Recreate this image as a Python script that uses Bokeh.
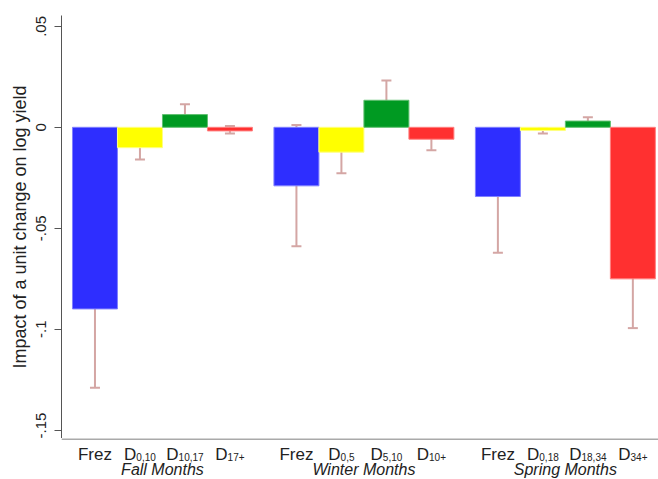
from bokeh.plotting import figure
from bokeh.layouts import column
from bokeh.models import (ColumnDataSource, Range1d, FixedTicker, Whisker, TeeHead, Span)
from bokeh.core.properties import value
from bokeh.embed import file_html
from bokeh.resources import INLINE

# ---------------- data ----------------
groups = ["Fall Months", "Winter Months", "Spring Months"]
main_labels = ["Frez", "D", "D", "D"]
fall_subs = ["", "0,10", "10,17", "17+"]
winter_subs = ["", "0,5", "5,10", "10+"]
spring_subs = ["", "0,18", "18,34", "34+"]

fall = [-0.0900, -0.0101, 0.0063, -0.0018]
fall_lo = [-0.1290, -0.0160, 0.0011, -0.0031]
fall_hi = [-0.0500, -0.0048, 0.0114, 0.0007]

winter = [-0.0290, -0.0123, 0.0134, -0.0059]
winter_lo = [-0.0590, -0.0228, 0.0040, -0.0114]
winter_hi = [0.0011, -0.0023, 0.0232, -0.0008]

spring = [-0.0343, -0.0016, 0.0031, -0.0751]
spring_lo = [-0.0622, -0.0031, 0.0011, -0.0995]
spring_hi = [-0.0061, -0.0003, 0.0050, -0.0510]

bar_colors = ["#2E2EFF", "#FFFF00", "#009A22", "#FF3030"]
edge_colors = ["#8080FF", "#FFFF80", "#60C070", "#FF8080"]

y_ticks = [0.05, 0.0, -0.05, -0.1, -0.15]
y_tick_labels = [".05", "0", "-.05", "-.1", "-.15"]

# ---------------- layout ----------------
FONT = "Liberation Sans"
TXT = "#222222"
AX = "#555555"
first_center = 0.744
group_step = 4.478
W = 658
MAIN_H = 438
STRIP_H = 41

values = [fall, winter, spring]
los = [fall_lo, winter_lo, spring_lo]
his = [fall_hi, winter_hi, spring_hi]
subs = [fall_subs, winter_subs, spring_subs]

xs, tops, lo_all, hi_all, fills, edges = [], [], [], [], [], []
for g in range(3):
    for i in range(4):
        xs.append(first_center + g * group_step + i)
        tops.append(values[g][i])
        lo_all.append(los[g][i])
        hi_all.append(his[g][i])
        fills.append(bar_colors[i])
        edges.append(edge_colors[i])

src = ColumnDataSource(dict(x=xs, top=tops, lo=lo_all, hi=hi_all, fill=fills, edge=edges))

xr = Range1d(0, 13.27)
p = figure(width=W, height=MAIN_H, output_backend="svg", toolbar_location=None,
           x_range=xr, y_range=Range1d(-0.1542, 0.0554),
           min_border_left=61, min_border_right=0, min_border_top=15, min_border_bottom=0)
p.outline_line_color = None
p.grid.visible = False
p.xaxis.visible = False

p.vbar(x="x", top="top", bottom=0, width=1.0, source=src,
       fill_color="fill", line_color="edge", line_width=1)

err_color = "#D4A6A4"
w = Whisker(base="x", lower="lo", upper="hi", source=src,
            line_color=err_color, line_width=2,
            upper_head=TeeHead(size=10, line_color=err_color, line_width=2),
            lower_head=TeeHead(size=10, line_color=err_color, line_width=2))
p.add_layout(w)

ya = p.yaxis[0]
ya.ticker = FixedTicker(ticks=y_ticks)
ya.major_label_overrides = {t: l for t, l in zip(y_ticks, y_tick_labels)}
ya.major_label_orientation = "vertical"
ya.major_label_text_font = FONT
ya.major_label_text_font_size = "15px"
ya.major_label_text_color = TXT
ya.major_label_standoff = 8
ya.major_tick_in = 0
ya.major_tick_out = 7
ya.minor_tick_line_color = None
ya.axis_line_color = AX
ya.major_tick_line_color = AX
ya.axis_label = "Impact of a unit change on log yield"
ya.axis_label_text_font = FONT
ya.axis_label_text_font_size = "18px"
ya.axis_label_text_font_style = "normal"
ya.axis_label_text_color = TXT
ya.axis_label_standoff = 4

# ---------------- label strip below the bars ----------------
p2 = figure(width=W, height=STRIP_H, output_backend="svg", toolbar_location=None,
            x_range=xr, y_range=Range1d(0, STRIP_H),
            min_border_left=61, min_border_right=0, min_border_top=0, min_border_bottom=0)
p2.outline_line_color = None
p2.grid.visible = False
p2.axis.visible = False
p2.add_layout(Span(location=STRIP_H - 0.5, dimension="width", line_color=AX, line_width=1))

MAIN_PX = 17
SUB_PX = 10
char_w = {"D": 0.722, ",": 0.278, "+": 0.584}
base_y = 25.5
sub_y = base_y - 2.5
group_y = 10.5

mx, my, mt, mo, ma = [], [], [], [], []
sx, sy, st, so = [], [], [], []
for g in range(3):
    for i in range(4):
        c = first_center + g * group_step + i
        s = subs[g][i]
        if s == "":
            mx.append(c); my.append(base_y); mt.append(main_labels[i]); mo.append(0); ma.append("center")
        else:
            wd = char_w["D"] * MAIN_PX
            ws = sum(char_w.get(ch, 0.556) for ch in s) * SUB_PX
            off = (wd - ws) / 2
            mx.append(c); my.append(base_y); mt.append(main_labels[i]); mo.append(off); ma.append("right")
            sx.append(c); sy.append(sub_y); st.append(s); so.append(off)

p2.text(x=mx, y=my, text=mt, x_offset=mo, text_align=ma, text_baseline="alphabetic",
        text_font=value(FONT), text_font_size=f"{MAIN_PX}px", text_color=TXT)
p2.text(x=sx, y=sy, text=st, x_offset=so, text_align="left", text_baseline="alphabetic",
        text_font=value(FONT), text_font_size=f"{SUB_PX}px", text_color=TXT)

gx = [first_center + g * group_step + 1.5 for g in range(3)]
p2.text(x=gx, y=[group_y] * 3, text=groups, text_align="center", text_baseline="alphabetic",
        text_font=value(FONT), text_font_size="16px", text_font_style="italic", text_color=TXT)

layout = column(p, p2, spacing=0)
open("out.html", "w").write(file_html(layout, INLINE))
